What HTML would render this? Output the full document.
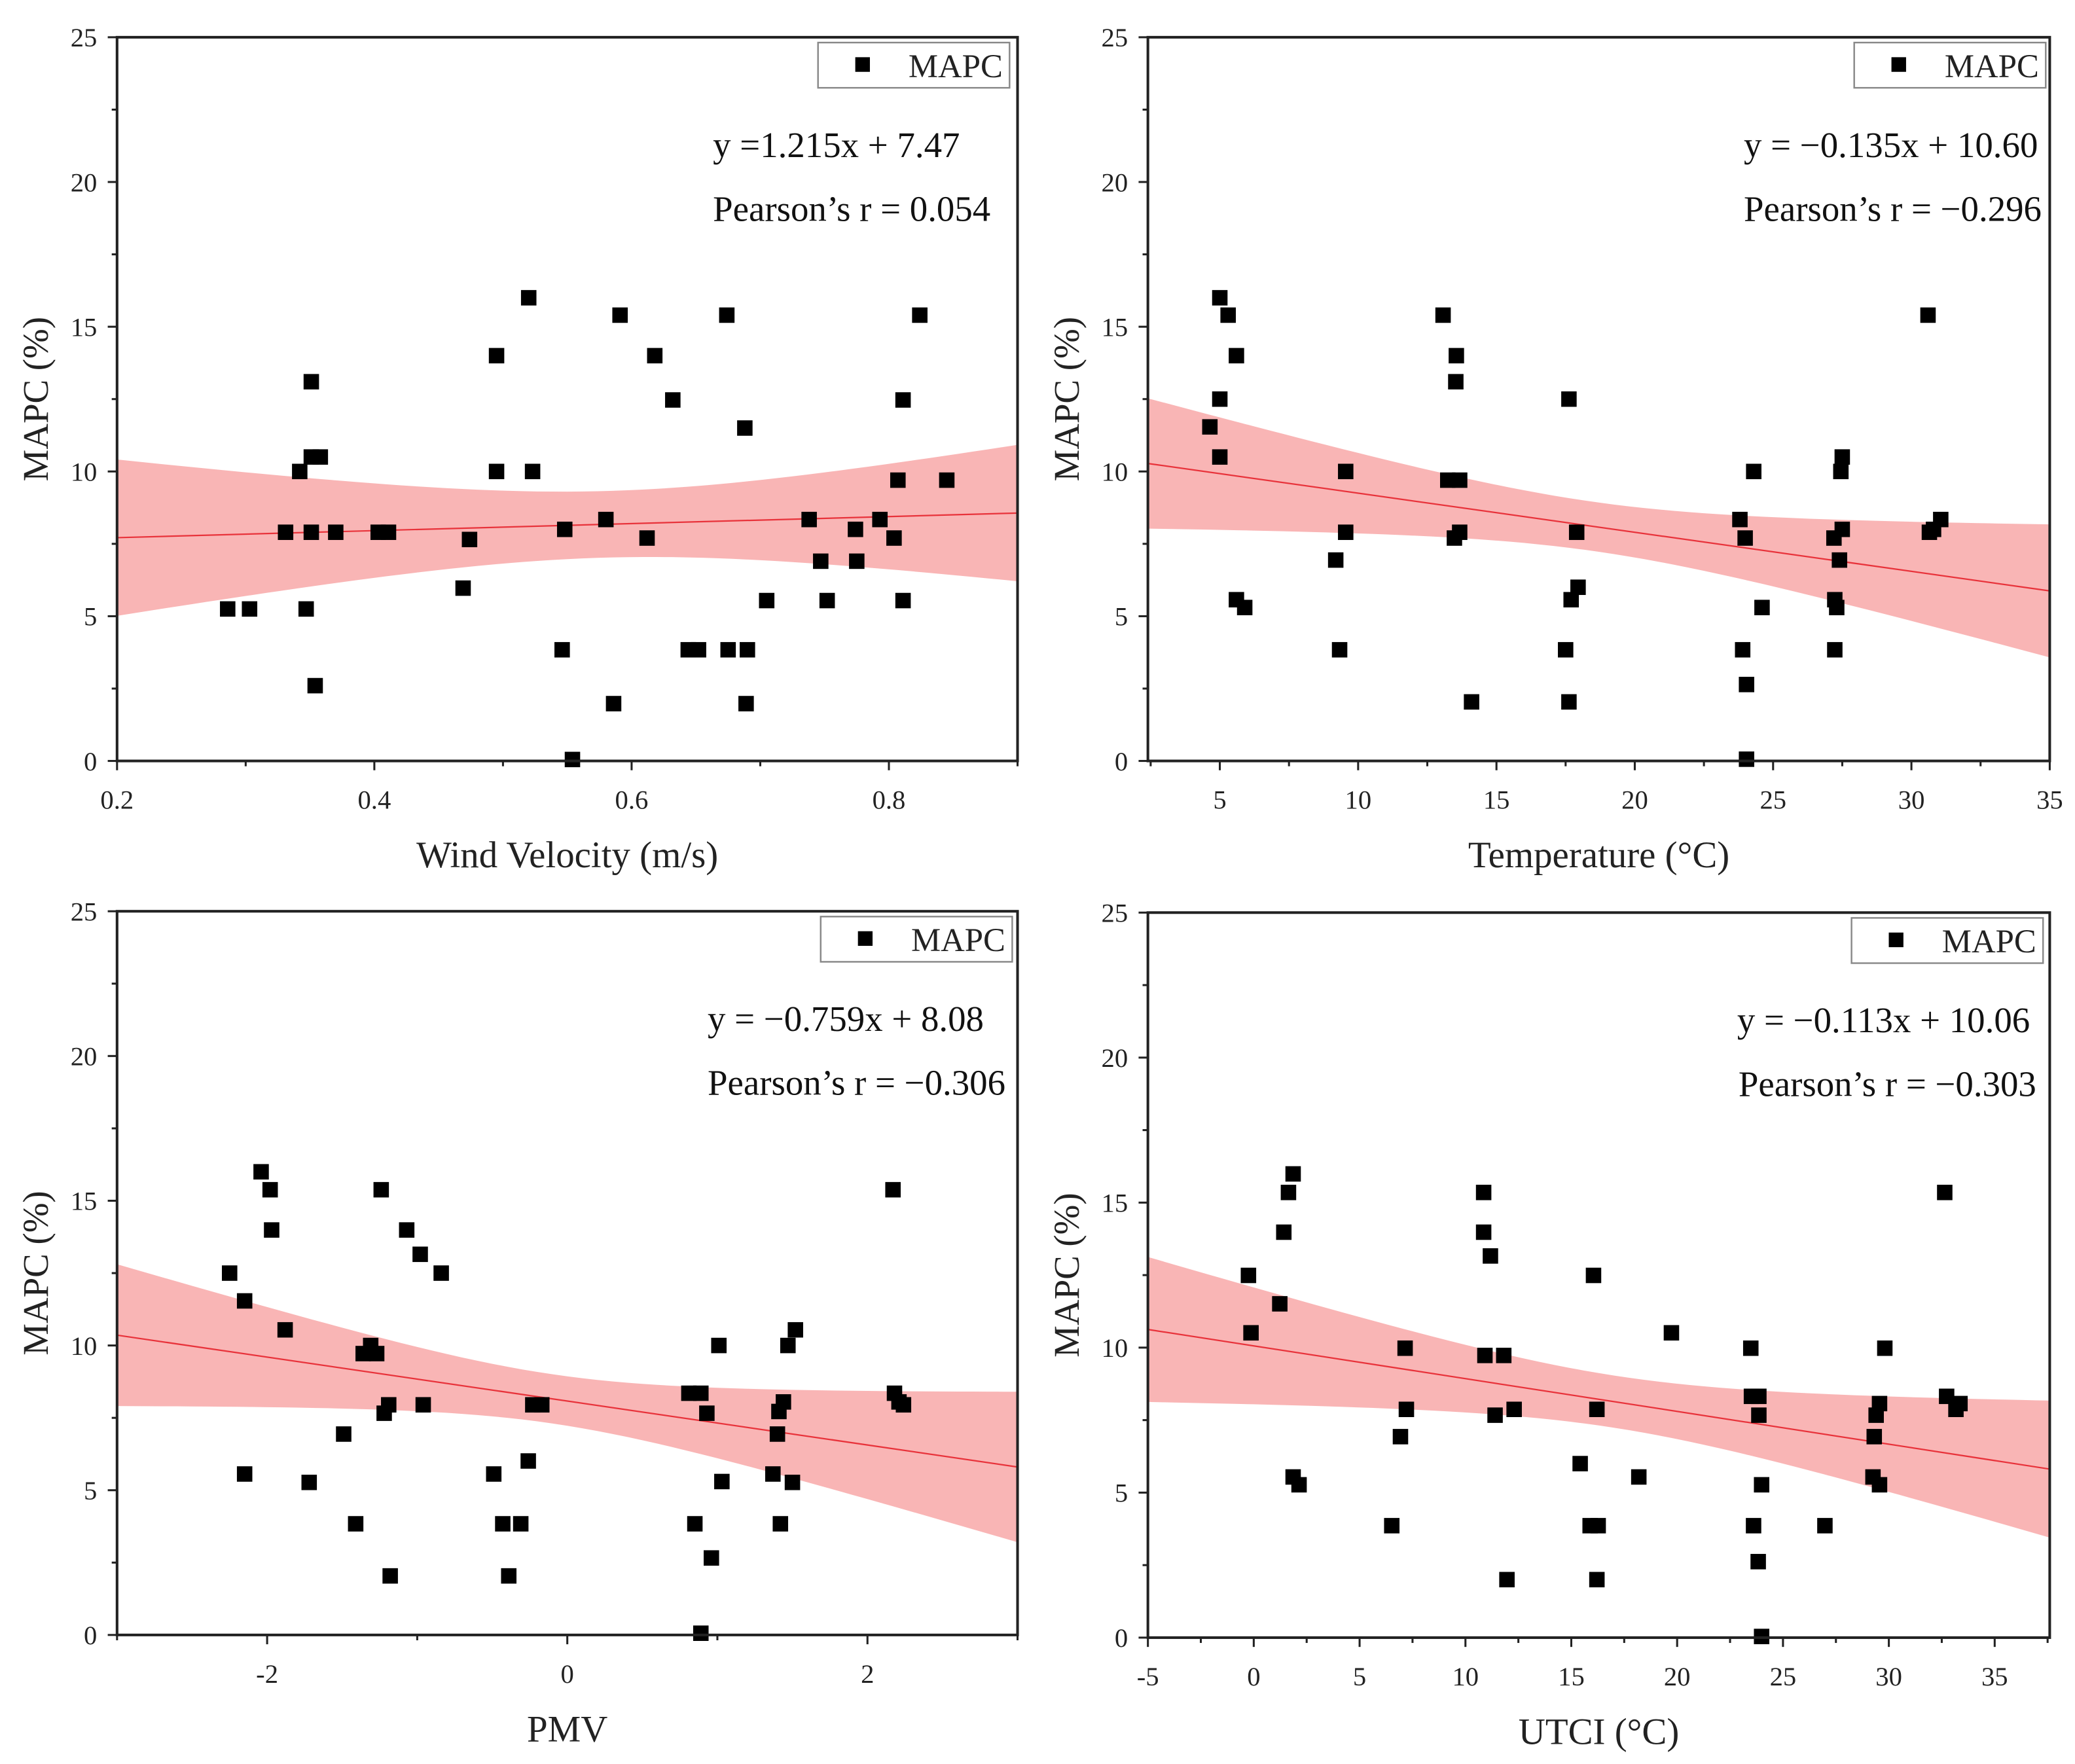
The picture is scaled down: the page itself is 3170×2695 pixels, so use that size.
<!DOCTYPE html>
<html><head><meta charset="utf-8"><style>
html,body{margin:0;padding:0;background:#fff;}
svg{display:block;font-family:"Liberation Serif",serif;}
</style></head><body>
<svg id="fig" width="3170" height="2695" viewBox="0 0 1560 1326" preserveAspectRatio="none" xmlns="http://www.w3.org/2000/svg"></svg>
<script>
// ---- Panel 1: Wind velocity ----
const windX = [0.286,0.303,0.331,0.342,0.347,0.351,0.351,0.351,0.358,0.354,0.370,0.403,0.411,0.474,0.469,0.495,0.495,0.520,0.523,0.546,0.548,0.554,0.580,0.586,0.591,0.612,0.618,0.632,0.644,0.652,0.674,0.675,0.688,0.690,0.689,0.705,0.738,0.747,0.752,0.774,0.775,0.793,0.804,0.807,0.811,0.811,0.824,0.845];
const windY = [5.25,5.25,7.9,10.0,5.25,7.9,13.1,10.5,10.5,2.6,7.9,7.9,7.9,7.65,5.97,14.0,10.0,16.0,10.0,3.84,8.0,0.05,8.34,1.98,15.4,7.7,14.0,12.47,3.84,3.84,15.4,3.84,11.5,3.84,1.98,5.54,8.34,6.9,5.54,8.0,6.9,8.34,7.7,9.7,12.47,5.54,15.4,9.7];
// ---- Panel 2: Temperature ----
const tempX = [5.0,5.3,5.6,5.0,4.64,5.0,5.6,5.9,9.19,9.55,9.55,9.33,13.07,13.55,13.53,13.24,13.67,13.48,13.67,14.1,17.62,17.9,17.95,17.7,17.5,17.62,23.8,23.99,24.3,24.6,23.9,24.04,24.04,27.5,27.45,27.2,27.5,27.4,27.23,27.3,27.23,30.6,30.65,31.06,30.8];
const tempY = [16.0,15.4,14.0,12.5,11.54,10.5,5.57,5.3,6.94,10.0,7.9,3.84,15.4,14.0,13.1,9.7,9.7,7.7,7.9,2.04,12.5,7.9,6.0,5.57,3.84,2.04,8.34,7.7,10.0,5.3,3.84,2.64,0.06,10.5,10.0,7.7,8.0,6.94,5.57,5.3,3.84,15.4,7.9,8.34,8.0];
// ---- Panel 3: PMV ----
const pmvX = [-2.25,-2.15,-2.04,-1.98,-1.97,-1.88,-2.15,-1.72,-1.49,-1.41,-1.24,-1.31,-1.36,-1.27,-1.22,-1.19,-1.18,-1.07,-0.98,-0.96,-0.84,-0.49,-0.43,-0.39,-0.31,-0.26,-0.23,-0.17,0.81,0.89,0.93,0.85,0.89,0.96,1.01,1.03,1.37,1.40,1.41,1.44,1.47,1.52,1.50,1.42,2.17,2.18,2.21,2.24];
const pmvY = [12.5,11.54,16.0,15.38,13.99,10.54,5.56,5.27,6.94,3.84,15.38,10.0,9.72,9.72,7.66,7.95,2.04,13.99,13.15,7.95,12.5,5.56,3.84,2.04,3.84,6.01,7.95,7.95,8.35,8.35,7.66,3.84,0.06,2.66,10.0,5.3,5.56,6.94,7.72,8.05,10.0,10.54,5.27,3.84,15.38,8.35,8.05,7.95];
// ---- Panel 4: UTCI ----
const utciX = [-0.25,-0.13,1.23,1.42,1.64,1.86,1.86,2.14,6.52,6.93,7.15,7.21,10.86,10.86,11.18,10.92,11.81,11.4,12.3,11.96,15.42,15.89,16.27,16.05,16.21,16.21,18.19,19.73,23.48,23.51,23.86,23.86,23.61,23.83,23.99,23.99,26.98,29.31,29.4,29.56,29.25,29.56,29.81,32.64,32.73,33.17,33.36];
const utciY = [12.49,10.51,11.51,13.98,15.35,15.99,5.54,5.27,3.86,6.93,9.98,7.87,15.35,13.98,13.16,9.73,9.73,7.67,7.87,2.0,6.0,3.86,3.86,12.49,7.87,2.0,5.54,10.51,9.98,8.32,8.32,7.67,3.86,2.62,5.27,0.04,3.86,6.93,7.67,8.07,5.54,5.27,9.98,15.35,8.32,7.87,8.07];
// regression slope / intercept per panel
const slopes = [1.215,-0.135,-0.759,-0.113];
const intercepts = [7.47,10.60,8.08,10.06];
// confidence band: centre x, min half-width, half-width at left edge
const bandCenter = [0.58,18.5,-0.1,17];
const bandMinHalf = [1.15,0.85,0.85,0.9];
const bandEdgeHalf = [2.7,2.25,2.45,2.5];
const yTicks = [0,5,10,15,20,25];
const xTicks1 = [0.2,0.4,0.6,0.8];
const xTicks2 = [5,10,15,20,25,30,35];
const xTicks3 = [-2,0,2];
const xTicks4 = [-5,0,5,10,15,20,25,30,35];
const xTitles = ["Wind Velocity (m/s)","Temperature (\u00B0C)","PMV","UTCI (\u00B0C)"];
const eqTexts = ["y =1.215x + 7.47","y = \u22120.135x + 10.60","y = \u22120.759x + 8.08","y = \u22120.113x + 10.06"];
const rTexts = ["Pearson\u2019s r = 0.054","Pearson\u2019s r = \u22120.296","Pearson\u2019s r = \u22120.306","Pearson\u2019s r = \u22120.303"];

const NS = "http://www.w3.org/2000/svg";
const svg = document.getElementById('fig');
function mk(tag, attrs, parent){ const e=document.createElementNS(NS,tag); for(const k in attrs) e.setAttribute(k,attrs[k]); (parent||svg).appendChild(e); return e; }

const panels = [
 {L:88,R:765,T:28,B:572,xmin:0.2,xmax:0.9,xs:windX,ys:windY,ticks:xTicks1,minor:0.1,fmt:v=>v.toFixed(1),eqX:536,legX:615,rX:536},
 {L:863,R:1541,T:28,B:572,xmin:2.4,xmax:35,xs:tempX,ys:tempY,ticks:xTicks2,minor:2.5,fmt:v=>String(v),eqX:1311,legX:1394,rX:1311},
 {L:88,R:765,T:685,B:1229,xmin:-3,xmax:3,xs:pmvX,ys:pmvY,ticks:xTicks3,minor:1,fmt:v=>String(v),eqX:532,legX:617,rX:532},
 {L:863,R:1541,T:686,B:1231,xmin:-5,xmax:37.6,xs:utciX,ys:utciY,ticks:xTicks4,minor:2.5,fmt:v=>String(v),eqX:1306,legX:1392,rX:1307}
];

panels.forEach((p,i)=>{
  const g = mk('g',{});
  
  
  const sx = v => p.L + (v-p.xmin)/(p.xmax-p.xmin)*(p.R-p.L);
  const sy = v => p.B - v/25*(p.B-p.T);
  const k2 = (bandEdgeHalf[i]**2 - bandMinHalf[i]**2)/((p.xmin-bandCenter[i])**2);
  const half = x => Math.sqrt(bandMinHalf[i]**2 + k2*(x-bandCenter[i])**2);
  const fit = x => slopes[i]*x + intercepts[i];
  let up=[], lo=[];
  const N=60;
  for(let j=0;j<=N;j++){ const x=p.xmin+(p.xmax-p.xmin)*j/N; up.push(sx(x).toFixed(2)+','+sy(fit(x)+half(x)).toFixed(2)); lo.push(sx(x).toFixed(2)+','+sy(fit(x)-half(x)).toFixed(2)); }
  const band = mk('polygon',{points:up.concat(lo.reverse()).join(' '),fill:'#f8a8a8','fill-opacity':'0.85'},g);
  
  
  const line = mk('line',{x1:sx(p.xmin),y1:sy(fit(p.xmin)),x2:sx(p.xmax),y2:sy(fit(p.xmax)),stroke:'#e8323a','stroke-width':1.1},g);
  
  
  p.xs.forEach((x,j)=>{
    const r = mk('rect',{x:(sx(x)-5.8).toFixed(2),y:(sy(p.ys[j])-5.8).toFixed(2),width:11.6,height:11.6,fill:'#000'},g);
    
    
  });
  const fr = mk('rect',{x:p.L,y:p.T,width:p.R-p.L,height:p.B-p.T,fill:'none',stroke:'#222','stroke-width':2},g);
  
  
  for(let v=0; v<=25.01; v+=2.5){
    const major = Math.abs(v%5)<0.01;
    mk('line',{x1:p.L-(major?7:4),y1:sy(v),x2:p.L,y2:sy(v),stroke:'#222','stroke-width':1.5},g);
  }
  yTicks.forEach(v=>{
    const t = mk('text',{x:p.L-15,y:sy(v)+7,'text-anchor':'end','font-size':20,fill:'#222'},g);
    t.textContent = v;
    
    
  });
  const start = Math.ceil((p.xmin-1e-9)/p.minor)*p.minor;
  for(let v=start; v<=p.xmax+1e-9; v+=p.minor){
    const major = p.ticks.some(t=>Math.abs(t-v)<1e-6);
    mk('line',{x1:sx(v),y1:p.B,x2:sx(v),y2:p.B+(major?7:4),stroke:'#222','stroke-width':1.5},g);
  }
  p.ticks.forEach(v=>{
    const t = mk('text',{x:sx(v),y:p.B+36,'text-anchor':'middle','font-size':20,fill:'#222'},g);
    t.textContent = p.fmt(v);
    
    
  });
  const xt = mk('text',{x:(p.L+p.R)/2,y:p.B+80,'text-anchor':'middle','font-size':28,fill:'#222'},g);
  xt.textContent = xTitles[i];
  
  
  const cy=(p.T+p.B)/2;
  const yt = mk('text',{x:p.L-52,y:cy,'text-anchor':'middle','font-size':27,fill:'#222',transform:`rotate(-90 ${p.L-52} ${cy})`},g);
  yt.textContent = 'MAPC (%)';
  
  
  const lg = mk('g',{},g);
  
  
  mk('rect',{x:p.legX,y:p.T+4,width:144,height:34,fill:'#fff',stroke:'#888','stroke-width':1.2},lg);
  mk('rect',{x:p.legX+28,y:p.T+15,width:11,height:11,fill:'#000'},lg);
  const lt = mk('text',{x:p.legX+68,y:p.T+30,'font-size':25,fill:'#222'},lg);
  lt.textContent='MAPC';
  const eq = mk('text',{x:p.eqX,y:p.T+90,'font-size':27,fill:'#111'},g);
  eq.textContent = eqTexts[i];
  
  
  const rt = mk('text',{x:p.rX,y:p.T+138,'font-size':27,fill:'#111'},g);
  rt.textContent = rTexts[i];
  
  
});
</script>
</body></html>
